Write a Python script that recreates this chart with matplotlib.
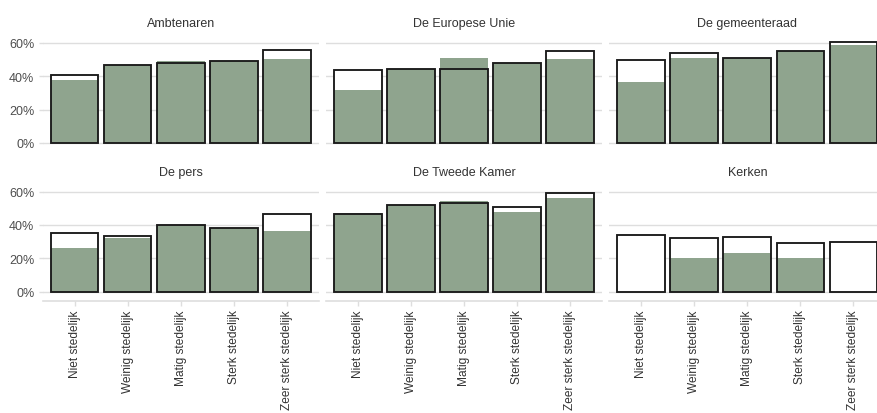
import matplotlib
matplotlib.use('Agg')
import matplotlib.pyplot as plt
import numpy as np

plt.rcParams['font.family'] = ['Liberation Sans', 'DejaVu Sans']

# Categories and panels
categories = ['Niet stedelijk', 'Weinig stedelijk', 'Matig stedelijk',
              'Sterk stedelijk', 'Zeer sterk stedelijk']
panels = ['Ambtenaren', 'De Europese Unie', 'De gemeenteraad',
          'De pers', 'De Tweede Kamer', 'Kerken']

# Outlined (white) bars, percent
outline_ambtenaren = [41, 47, 48, 49, 56]
outline_eu = [44, 44.5, 44.5, 48, 55]
outline_gemeenteraad = [49.5, 54, 51, 55, 60.5]
outline_pers = [35, 33.5, 40, 38.5, 46.5]
outline_tweede_kamer = [46.5, 52, 53, 51, 59]
outline_kerken = [34, 32.5, 33, 29, 30]

# Filled (green) bars, percent
green_ambtenaren = [38, 47, 49, 49, 50.5]
green_eu = [32, 44.5, 51, 48, 50.5]
green_gemeenteraad = [36.5, 51, 51, 55, 59]
green_pers = [26, 32, 40, 38.5, 36.5]
green_tweede_kamer = [47, 52, 54.5, 48, 56]
green_kerken = [0, 20.5, 23, 20.5, 0]

outline_values = [outline_ambtenaren, outline_eu, outline_gemeenteraad,
                  outline_pers, outline_tweede_kamer, outline_kerken]
green_values = [green_ambtenaren, green_eu, green_gemeenteraad,
                green_pers, green_tweede_kamer, green_kerken]

yticks = [0, 20, 40, 60]

GREEN = '#8fa48e'
GRID = '#dedede'
EDGE = '#1a1a1a'

W, H = 878, 414
fig = plt.figure(figsize=(W / 100, H / 100), dpi=100)

lefts = [42.7, 326.3, 609.4]
panel_w = 275.9
row_bottoms = [153.3, 302.0]
panel_h = 116.0

x = np.arange(len(categories))

for i, name in enumerate(panels):
    row, col = divmod(i, 3)
    ax = fig.add_axes([lefts[col] / W, 1 - row_bottoms[row] / H,
                       panel_w / W, panel_h / H])

    # white bars hide the grid, green on top, then black outline over both
    ax.bar(x, outline_values[i], width=0.9, color='white', edgecolor='none', zorder=2)
    ax.bar(x, green_values[i], width=0.9, color=GREEN, edgecolor='none', zorder=3)
    ax.bar(x, outline_values[i], width=0.9, fill=False, edgecolor=EDGE,
           linewidth=1.35, zorder=4)

    ax.set_xlim(-0.6, 4.6)
    ax.set_ylim(-5.6, 64)
    ax.set_yticks(yticks)
    ax.grid(axis='y', color=GRID, linewidth=1.0, zorder=0)
    ax.set_axisbelow(True)

    for side in ['top', 'right', 'left', 'bottom']:
        ax.spines[side].set_visible(False)

    if col == 0:
        ax.set_yticklabels([f'{v}%' for v in yticks])
        ax.tick_params(axis='y', length=3.0, width=1.0, color=GRID, pad=3,
                       labelsize=9, labelcolor='#4d4d4d')
    else:
        ax.tick_params(axis='y', length=0, labelleft=False)

    if row == 1:
        ax.spines['bottom'].set_visible(True)
        ax.spines['bottom'].set_color(GRID)
        ax.spines['bottom'].set_linewidth(1.2)
        ax.set_xticks(x)
        ax.set_xticklabels(categories, rotation=90)
        ax.tick_params(axis='x', length=3.5, width=1.0, color=GRID, pad=2.5,
                       labelsize=8.6, labelcolor='#333333')
    else:
        ax.set_xticks([])

    ax.text(0.5, 1 + 13.3 / panel_h, name, transform=ax.transAxes,
            ha='center', va='center', fontsize=9, color='#333333')

fig.savefig('out.png', dpi=100)
